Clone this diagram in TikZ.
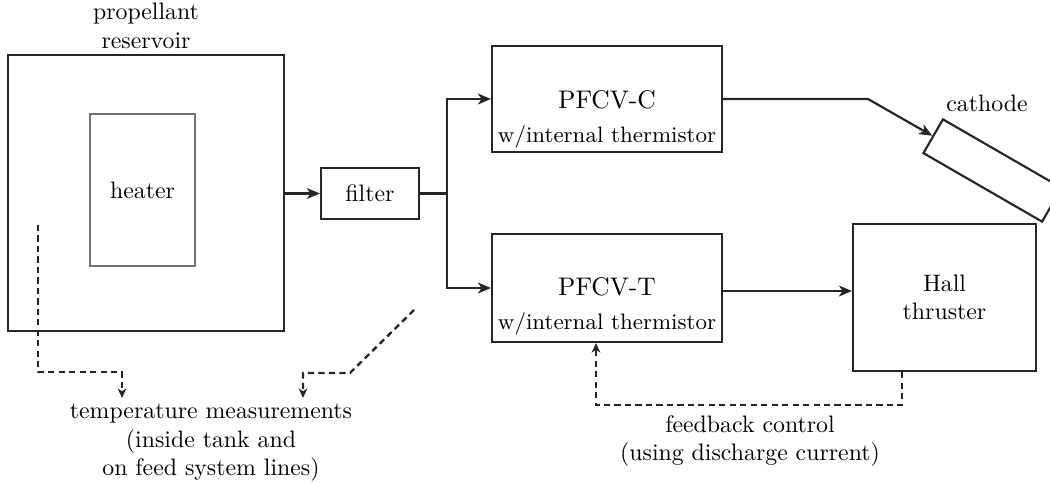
\documentclass[tikz,border=0pt]{standalone}
\usepackage{amsmath}
\usepackage{tikz}
\usetikzlibrary{arrows.meta,positioning}
\newdimen\unitpx
\unitpx=0.42pt
\tikzset{
	x=0.42pt,
	y=-0.42pt,
	>={Stealth[length=5.5pt,width=4.6pt,inset=1.6pt]},
	block/.style={
		draw=black!85,
		line width=0.9pt,
		inner sep=0pt,
		align=center
	},
	flow/.style={
		->,
		draw=black!85,
		line width=0.9pt
	},
	meas/.style={
		-{Stealth[length=4pt,width=3.6pt,inset=1.2pt]},
		draw=black!85,
		line width=1pt,
		dash pattern=on 2.6pt off 1.8pt
	},
	note/.style={
		align=center,
		inner sep=0pt
	}
}
\newcommand{\thermtxt}{{\fontsize{9.4pt}{11pt}\selectfont w/internal thermistor}}
\newcommand{\valvetxt}[1]{{\fontsize{10.7pt}{12pt}\selectfont #1}}

\begin{document}
\begin{tikzpicture}
	\clip (0,0) rectangle (1050,483);
	\fill[white] (0,0) rectangle (1050,483);

	\node [block, minimum width=276\unitpx, minimum height=276\unitpx] (res)
		[label={[note, label distance=5\unitpx]above:propellant\\reservoir}] at (146,193) {};
	\node [block, draw=black!55, line width=0.6pt, minimum width=105\unitpx, minimum height=152\unitpx] (heat) at (142.5,190) {heater};
	\node [block, minimum width=98\unitpx, minimum height=51\unitpx] (filt) at (370,193.5) {filter};
	\node [block, minimum width=230\unitpx, minimum height=106\unitpx] (pfc) at (607,99) {};
	\node [note] at (607,100) {\valvetxt{PFCV-C}};
	\node [note] at (607,137) {\thermtxt};
	\node [block, minimum width=230\unitpx, minimum height=108\unitpx] (pft) at (607,288) {};
	\node [note] at (607,287) {\valvetxt{PFCV-T}};
	\node [note] at (607,324) {\thermtxt};
	\node [block, minimum width=183\unitpx, minimum height=147\unitpx] (hall) at (944.5,297.5) {Hall\\thruster};
	\node [block, rotate=-30, minimum width=137\unitpx, minimum height=39\unitpx] (cath) at (992.5,170.5) {};
	\node [note] (cathl) at (987,103) {cathode};

	\node [note] (tmeas) at (211,443) {temperature measurements\\(inside tank and\\on feed system lines)};
	\node [note] (fbl) at (750,441) {feedback control\\(using discharge current)};

	\coordinate (junc) at (447,193.5);
	\coordinate (kink) at (868,99);
	\coordinate (t1) at (38,225);
	\coordinate (t2) at (38,372);
	\coordinate (t3) at (122,372);
	\coordinate (t4) at (122,398);
	\coordinate (s1) at (414,310);
	\coordinate (s2) at (350,373);
	\coordinate (s3) at (303,373);
	\coordinate (s4) at (303,398);
	\coordinate (f1) at (902,405);
	\coordinate (f2) at (596,405);

	\draw [flow] (res.east |- filt) -- (filt.west);
	\draw [flow, -] (filt.east) -- (junc);
	\draw [flow] (junc) |- (pfc.west);
	\draw [flow] (junc) |- (pft.west);
	\draw [flow] (pfc.east) -- (kink) -- (cath.west);
	\draw [flow] (pft.east |- 0,291) -- (hall.west |- 0,291);

	\draw [meas] (t1) -- (t2) -- (t3) -- (t4);
	\draw [meas] (s1) -- (s2) -- (s3) -- (s4);
	\draw [meas] (f1 |- hall.south) -- (f1) -- (f2) -- (f2 |- pft.south);
\end{tikzpicture}
\end{document}
